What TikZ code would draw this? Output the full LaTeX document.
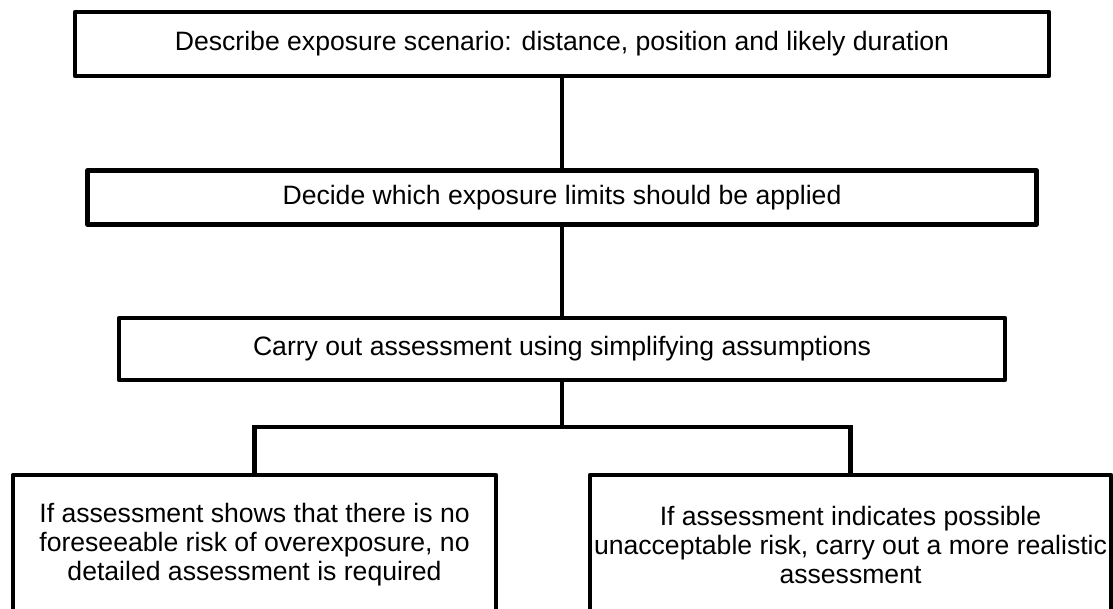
\documentclass[tikz,border=0pt]{standalone}
\usepackage{fontspec}
\setmainfont{Liberation Sans}
\tikzstyle{stage} = [rectangle, draw=black, line width=4.5pt, line join=round, inner sep=0pt, align=center, font=\fontsize{26.6}{29}\selectfont]
\tikzstyle{link} = [draw=black, line width=4.5pt]

\begin{document}
\begin{tikzpicture}[x=1pt, y=-1pt]
	\useasboundingbox (0,0) rectangle (1113,609);
	\clip (0,0) rectangle (1113,609);
	% the three steps in a column
	\node [stage, minimum width=974pt, minimum height=64pt] (describe) at (562,44) {Describe exposure scenario: distance, position and likely duration};
	\node [stage, minimum width=949pt, minimum height=54pt] (decide) at (562,197.5) {Decide which exposure limits should be applied};
	\node [stage, minimum width=886pt, minimum height=62pt] (carry) at (562,349) {Carry out assessment using simplifying assumptions};
	% the two outcomes
	\node [stage, minimum width=483pt, minimum height=139pt] (norisk) at (254.5,544.5) {If assessment shows that there is no\\foreseeable risk of overexposure, no\\detailed assessment is required};
	\node [stage, minimum width=521pt, minimum height=139pt] (risk) at (850.5,544.5) {If assessment indicates possible\\unacceptable risk, carry out a more realistic\\assessment};
	\coordinate (split) at (562,427);
	\draw [link] (describe) -- (decide);
	\draw [link] (decide) -- (carry);
	\draw [link] (carry) -- (split);
	\draw [link] (split) -| (norisk);
	\draw [link] (split) -| (risk);
\end{tikzpicture}
\end{document}
